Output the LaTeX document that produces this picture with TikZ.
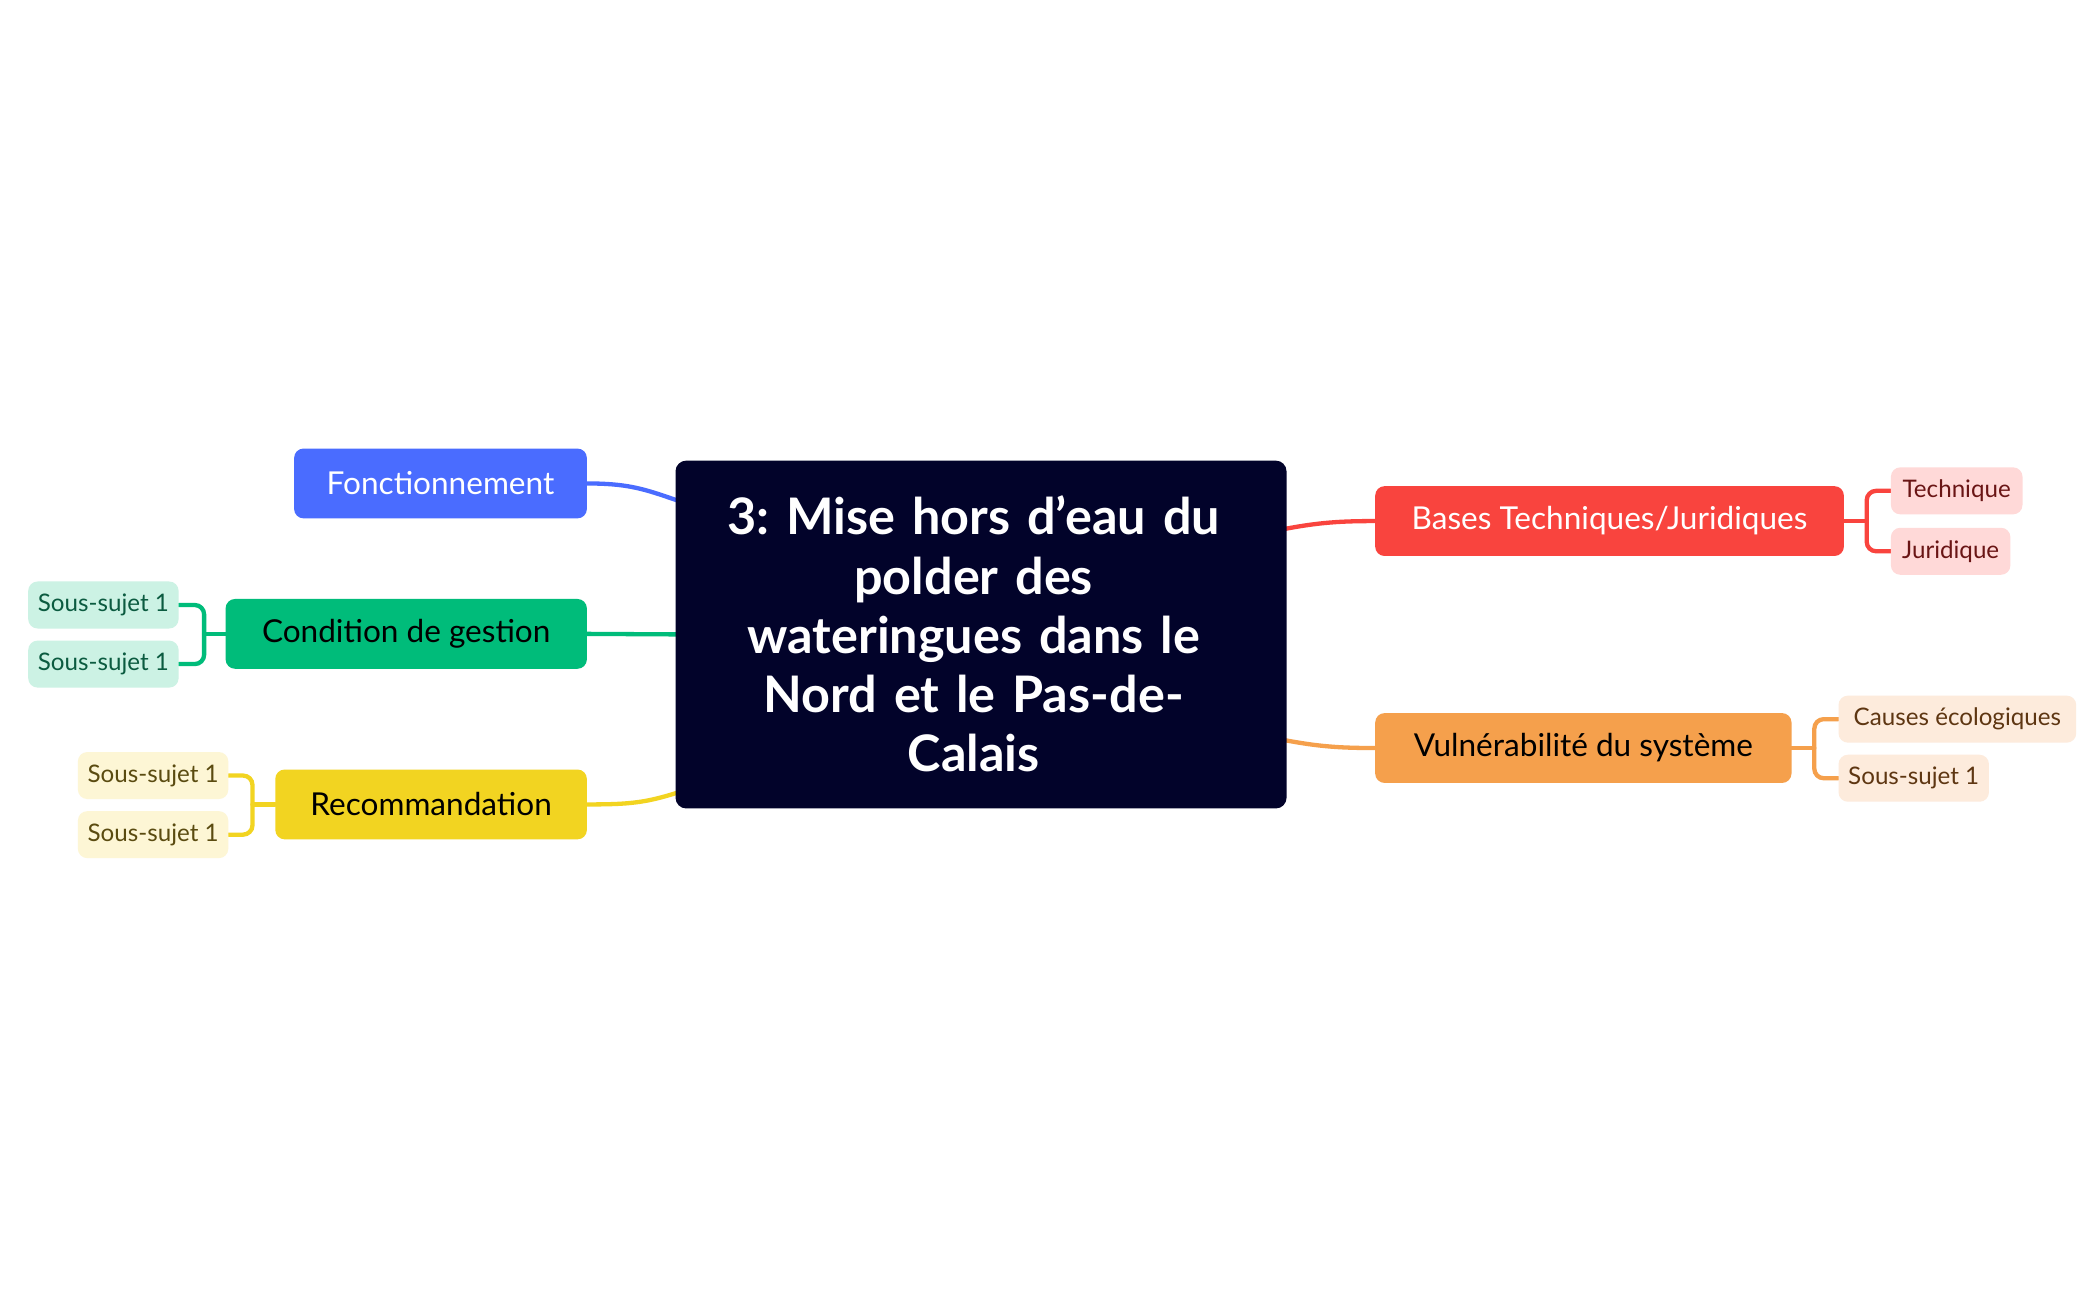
\documentclass[tikz,border=0pt]{standalone}
\usepackage{fontspec}
\setmainfont{Lato}
\usetikzlibrary{backgrounds}
\definecolor{navy}{HTML}{02032A}
\definecolor{cblue}{HTML}{4A6CFF}
\definecolor{cgreen}{HTML}{00BC7A}
\definecolor{cyellow}{HTML}{F2D421}
\definecolor{cred}{HTML}{F9443E}
\definecolor{corange}{HTML}{F5A04C}
\definecolor{lgreen}{HTML}{CCF2E4}
\definecolor{tgreen}{HTML}{0B5B40}
\definecolor{lyellow}{HTML}{FDF6D5}
\definecolor{tyellow}{HTML}{5A4B10}
\definecolor{lred}{HTML}{FFD9D8}
\definecolor{tred}{HTML}{6A1515}
\definecolor{lorange}{HTML}{FDEBDC}
\definecolor{torange}{HTML}{5E3612}
\tikzset{
  topicbox/.style={rounded corners=7pt, inner sep=0pt, minimum height=52pt,
    font=\fontsize{23.5}{27}\selectfont},
  subbox/.style={rounded corners=7pt, inner sep=0pt, minimum height=35pt,
    font=\fontsize{18}{21}\selectfont},
  link/.style={line width=3.2pt, line cap=round},
}
\begin{document}
\frenchspacing
\begin{tikzpicture}[x=1pt,y=-1pt]
\useasboundingbox (0,0) rectangle (1560,968);

% central node
\node[fill=navy, rounded corners=8pt, minimum width=455pt, minimum height=259pt,
  inner sep=0pt] (cen) at (730.5,472.5) {};
\node[text=white, align=center, text width=430pt,
  font=\fontsize{37.5}{44}\selectfont\bfseries] (centxt) at (725,472) {3: Mise hors d’eau du\\polder des\\wateringues dans le\\Nord et le Pas-de-\\Calais};

% main topics
\node[topicbox, fill=cblue, text=white, minimum width=218pt] (fon) at (328,360) {Fonctionnement};
\node[topicbox, fill=cgreen, text=black, minimum width=269pt] (cg) at (302.5,472) {Condition de gestion};
\node[topicbox, fill=cyellow, text=black, minimum width=232pt] (rec) at (321,599) {Recommandation};
\node[topicbox, fill=cred, text=white, minimum width=349pt] (bas) at (1198.5,388) {Bases Techniques/Juridiques};
\node[topicbox, fill=corange, text=black, minimum width=310pt] (vul) at (1179,557) {Vulnérabilité du système};

% sub topics
\node[subbox, fill=lgreen, text=tgreen, minimum width=112pt] (g1) at (77,450.5) {Sous-sujet 1};
\node[subbox, fill=lgreen, text=tgreen, minimum width=112pt] (g2) at (77,494.5) {Sous-sujet 1};
\node[subbox, fill=lyellow, text=tyellow, minimum width=112pt] (y1) at (114,577.5) {Sous-sujet 1};
\node[subbox, fill=lyellow, text=tyellow, minimum width=112pt] (y2) at (114,621.5) {Sous-sujet 1};
\node[subbox, fill=lred, text=tred, minimum width=98pt] (r1) at (1457,365.5) {Technique};
\node[subbox, fill=lred, text=tred, minimum width=89pt] (r2) at (1452.5,410.5) {Juridique};
\node[subbox, fill=lorange, text=torange, minimum width=177pt] (o1) at (1457.5,535.5) {Causes écologiques};
\node[subbox, fill=lorange, text=torange, minimum width=112pt] (o2) at (1425,579.5) {Sous-sujet 1};

% bracket junctions
\coordinate (jg) at (152,472);
\coordinate (jy) at (188,599);
\coordinate (jr) at (1390,388);
\coordinate (jo) at (1351,557);

\begin{scope}[on background layer]
\fill[white] (0,0) rectangle (1560,968);
\draw[link, cblue] (fon.east) .. controls +(35,0) and +(-30,-10) .. ([xshift=10pt,yshift=97pt]cen.west);
\draw[link, cgreen] (cg.east) -- ([xshift=20pt]cen.west);
\draw[link, cyellow] (rec.east) .. controls +(35,0) and +(-30,10) .. ([xshift=10pt,yshift=-115pt]cen.west);
\draw[link, cred] ([xshift=-10pt,yshift=77pt]cen.east) .. controls +(30,-6) and +(-30,0) .. (bas.west);
\draw[link, corange] ([xshift=-10pt,yshift=-77pt]cen.east) .. controls +(30,6) and +(-30,0) .. (vul.west);

\draw[link, cgreen] (cg.west) -- (jg);
\draw[link, cgreen, rounded corners=7pt] (g1.east) -| (jg) |- (g2.east);
\draw[link, cyellow] (rec.west) -- (jy);
\draw[link, cyellow, rounded corners=7pt] (y1.east) -| (jy) |- (y2.east);
\draw[link, cred] (bas.east) -- (jr);
\draw[link, cred, rounded corners=7pt] (r1.west) -| (jr) |- (r2.west);
\draw[link, corange] (vul.east) -- (jo);
\draw[link, corange, rounded corners=7pt] (o1.west) -| (jo) |- (o2.west);
\end{scope}
\end{tikzpicture}
\end{document}
